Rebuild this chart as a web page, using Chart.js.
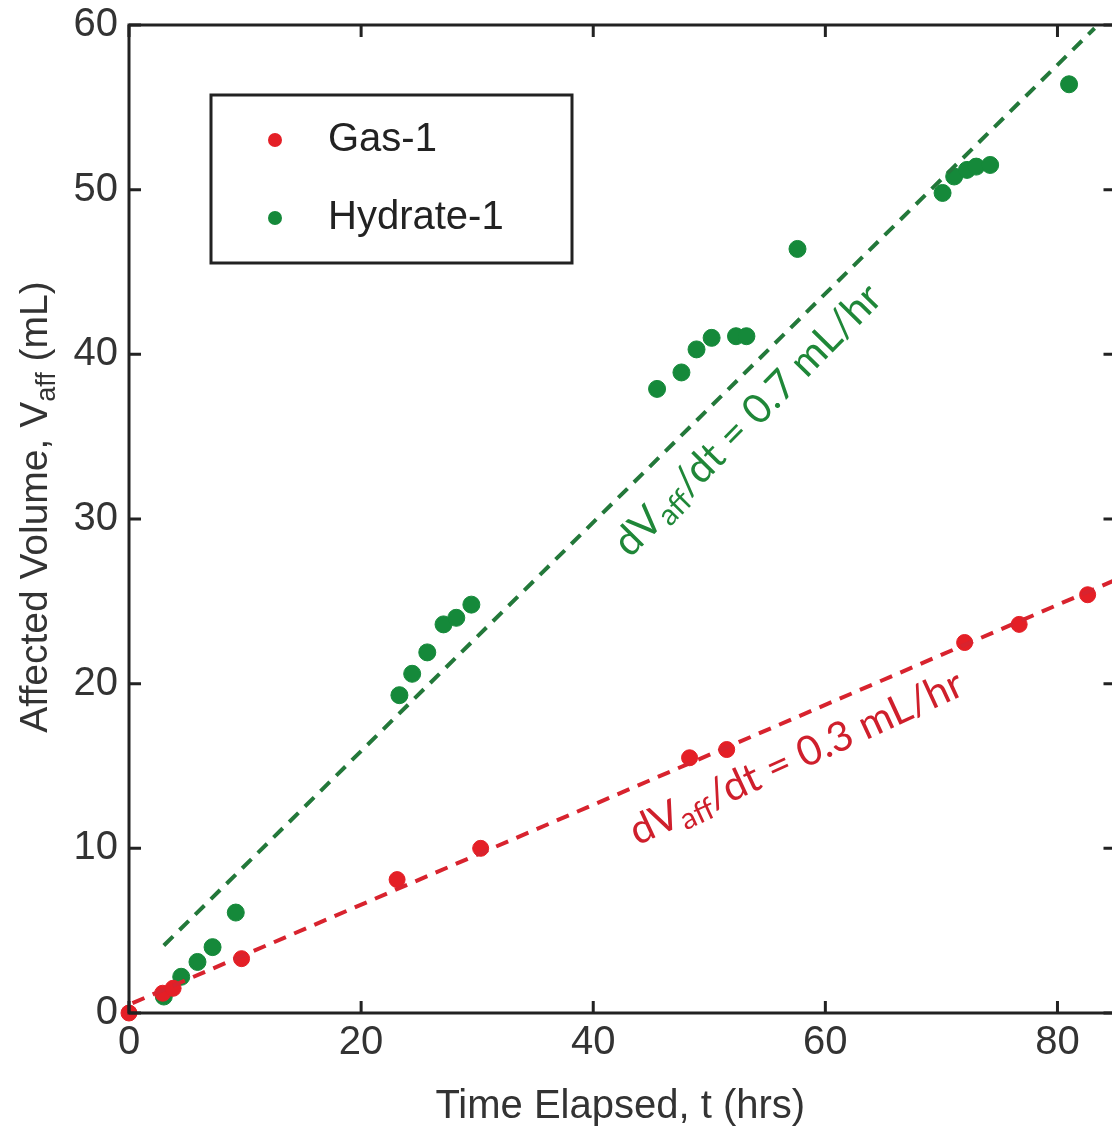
<!DOCTYPE html>
<html>
<head>
<meta charset="utf-8">
<script src="https://cdn.jsdelivr.net/npm/chart.js@4/dist/chart.umd.min.js"></script>
<style>
  html, body { margin: 0; padding: 0; background: #fff; overflow: hidden; }
  #wrap { width: 1125px; height: 1127px; }
</style>
</head>
<body>
<div id="wrap"><canvas id="c" width="1125" height="1127"></canvas></div>
<script>
// data
const gasT = [0, 2.9, 3.8, 9.7, 23.1, 30.3, 48.3, 51.5, 72.0, 76.7, 82.6];
const gasV = [0, 1.2, 1.5, 3.3, 8.1, 10.0, 15.5, 16.0, 22.5, 23.6, 25.4];
const hydT = [3.0, 4.5, 5.9, 7.2, 9.2, 23.3, 24.4, 25.7, 27.1, 28.2, 29.5,
              45.5, 47.6, 48.9, 50.2, 52.3, 53.2, 57.6, 70.1, 71.1, 72.2, 73.0, 74.2, 81.0];
const hydV = [1.0, 2.2, 3.1, 4.0, 6.1, 19.3, 20.6, 21.9, 23.6, 24.0, 24.8,
              37.9, 38.9, 40.3, 41.0, 41.1, 41.1, 46.4, 49.8, 50.8, 51.2, 51.4, 51.5, 56.4];
// fitted trend lines (end points)
const gasFitT = [0.3, 85];
const gasFitV = [0.6, 26.3];
const hydFitT = [3.0, 83.2];
const hydFitV = [4.1, 59.8];
const xTicks = [0, 20, 40, 60, 80];
const yTicks = [0, 10, 20, 30, 40, 50, 60];

const RED = '#e41f26', GREEN = '#15893a';
const FONT = '"Liberation Sans", Arial, sans-serif';

const pts = (xs, ys) => xs.map((x, i) => ({ x: x, y: ys[i] }));

// axes box, inward ticks, tick labels, legend, titles, slope labels
const decor = {
  id: 'decor',
  afterDatasetsDraw(chart) {
    const ctx = chart.ctx, a = chart.chartArea;
    const xs = chart.scales.x, ys = chart.scales.y;
    ctx.save();
    ctx.strokeStyle = '#222';
    ctx.lineWidth = 3;
    ctx.strokeRect(a.left, a.top, a.right - a.left, a.bottom - a.top);
    const tl = 12;
    ctx.beginPath();
    xTicks.forEach(v => {
      const px = xs.getPixelForValue(v);
      ctx.moveTo(px, a.bottom); ctx.lineTo(px, a.bottom - tl);
      ctx.moveTo(px, a.top); ctx.lineTo(px, a.top + tl);
    });
    yTicks.forEach(v => {
      const py = ys.getPixelForValue(v);
      ctx.moveTo(a.left, py); ctx.lineTo(a.left + tl, py);
      ctx.moveTo(a.right, py); ctx.lineTo(a.right - tl, py);
    });
    ctx.stroke();

    // tick labels
    ctx.fillStyle = '#333';
    ctx.font = '40px ' + FONT;
    ctx.textAlign = 'center';
    ctx.textBaseline = 'top';
    xTicks.forEach(v => ctx.fillText(String(v), xs.getPixelForValue(v), a.bottom + 10));
    ctx.textAlign = 'right';
    ctx.textBaseline = 'middle';
    yTicks.forEach(v => ctx.fillText(String(v), a.left - 11, ys.getPixelForValue(v)));

    // legend
    const lx = a.left + 82, ly = a.top + 70;
    ctx.fillStyle = '#fff';
    ctx.fillRect(lx, ly, 361, 168);
    ctx.strokeRect(lx, ly, 361, 168);
    [['Gas-1', RED, 45], ['Hydrate-1', GREEN, 123]].forEach(([txt, col, dy]) => {
      ctx.fillStyle = col;
      ctx.beginPath();
      ctx.arc(lx + 64, ly + dy, 7, 0, Math.PI * 2);
      ctx.fill();
      ctx.fillStyle = '#222';
      ctx.font = '40px ' + FONT;
      ctx.textBaseline = 'middle';
      ctx.textAlign = 'left';
      ctx.fillText(txt, lx + 117, ly + dy);
    });

    // x title
    ctx.fillStyle = '#333';
    ctx.font = '40px ' + FONT;
    ctx.textAlign = 'center';
    ctx.textBaseline = 'alphabetic';
    ctx.fillText('Time Elapsed, t (hrs)', (a.left + a.right) / 2 - 2, 1118);

    // y title with subscript
    drawSub(ctx, 'Affected Volume, V', 'aff', ' (mL)', 36, (a.top + a.bottom) / 2 - 12,
      -Math.PI / 2, '39px ' + FONT, '27px ' + FONT, '#333', 12);

    // slope labels
    const SF = 'Lato, "Open Sans", sans-serif';
    drawSub(ctx, 'dV', 'aff', '/dt = 0.7 mL/hr',
      xs.getPixelForValue(53.3), ys.getPixelForValue(36.0),
      -45.5 * Math.PI / 180, '41px ' + SF, '30px ' + SF, '#1f8738', 10);
    drawSub(ctx, 'dV', 'aff', '/dt = 0.3 mL/hr',
      xs.getPixelForValue(57.5), ys.getPixelForValue(15.5),
      -24.8 * Math.PI / 180, '41px ' + SF, '30px ' + SF, '#cf1f2c', 10);
    ctx.restore();
  }
};

function drawSub(ctx, pre, sub, post, cx, cy, ang, big, small, col, drop) {
  ctx.save();
  ctx.translate(cx, cy);
  ctx.rotate(ang);
  ctx.fillStyle = col;
  ctx.textAlign = 'left';
  ctx.textBaseline = 'middle';
  ctx.font = big;
  const w1 = ctx.measureText(pre).width, w3 = ctx.measureText(post).width;
  ctx.font = small;
  const w2 = ctx.measureText(sub).width;
  let x = -(w1 + w2 + w3) / 2;
  ctx.font = big;
  ctx.fillText(pre, x, 0); x += w1;
  ctx.font = small;
  ctx.fillText(sub, x, drop); x += w2;
  ctx.font = big;
  ctx.fillText(post, x, 0);
  ctx.restore();
}

new Chart(document.getElementById('c'), {
  type: 'scatter',
  data: {
    datasets: [
      { label: 'fit gas', type: 'line', data: pts(gasFitT, gasFitV), borderColor: '#d8232e',
        borderWidth: 4, borderDash: [13, 9], pointRadius: 0, fill: false },
      { label: 'fit hydrate', type: 'line', data: pts(hydFitT, hydFitV), borderColor: '#23783a',
        borderWidth: 4, borderDash: [13, 9], pointRadius: 0, fill: false },
      { label: 'Gas-1', data: pts(gasT, gasV), backgroundColor: RED, borderColor: RED,
        pointRadius: 8, clip: false },
      { label: 'Hydrate-1', data: pts(hydT, hydV), backgroundColor: GREEN, borderColor: GREEN,
        pointRadius: 8.5, clip: false }
    ]
  },
  options: {
    responsive: false,
    animation: false,
    layout: { padding: { top: 25, right: 8, left: 0, bottom: 0 } },
    plugins: { legend: { display: false }, tooltip: { enabled: false } },
    scales: {
      x: {
        type: 'linear', min: 0, max: 85,
        afterFit: s => { s.height = 114; },
        afterBuildTicks: s => { s.ticks = xTicks.map(v => ({ value: v })); },
        grid: { display: false, drawTicks: false },
        border: { display: false },
        ticks: { display: false }
      },
      y: {
        type: 'linear', min: 0, max: 60,
        afterFit: s => { s.width = 129; },
        afterBuildTicks: s => { s.ticks = yTicks.map(v => ({ value: v })); },
        grid: { display: false, drawTicks: false },
        border: { display: false },
        ticks: { display: false }
      }
    }
  },
  plugins: [decor]
});
</script>
</body>
</html>
